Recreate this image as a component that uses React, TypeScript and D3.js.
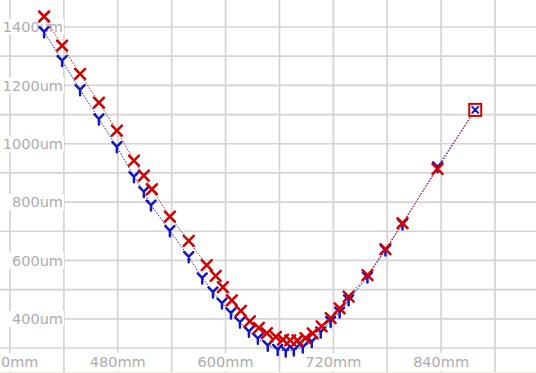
import React from 'react';
import * as d3 from 'd3';

// chart values
const redMm = [398, 418, 438, 459, 479, 498, 509, 518, 538, 559, 579, 589, 597, 607, 617, 627, 637, 646, 656, 664, 672, 680, 689, 697, 707, 717, 727, 737, 758, 778, 797, 836, 878];
const redUm = [1436, 1336, 1239, 1141, 1045, 942, 891, 844, 750, 667, 584, 547, 509, 463, 427, 391, 369, 351, 338, 329, 326, 326, 334, 350, 374, 402, 436, 476, 550, 639, 728, 914, 1116];
const blueMm = [398, 418, 438, 459, 479, 498, 509, 517, 538, 559, 574, 586, 596, 606, 616, 626, 636, 647, 658, 667, 676, 686, 696, 706, 717, 727, 737, 758, 778, 797, 836, 878];
const blueUm = [1384, 1285, 1185, 1085, 990, 887, 836, 790, 702, 613, 540, 492, 454, 420, 389, 357, 333, 309, 295, 290, 293, 303, 322, 355, 391, 423, 465, 543, 636, 725, 921, 1116];

const xGrid = [360, 420, 480, 540, 600, 660, 720, 780, 840, 900];
const xLabels = [360, 480, 600, 720, 840];
const yGrid = [300, 400, 500, 600, 700, 800, 900, 1000, 1100, 1200, 1300, 1400];
const yLabels = [400, 600, 800, 1000, 1200, 1400];

const W = 536;
const H = 373;
const font = '"DejaVu Sans", Verdana, sans-serif';

const App = () => {
  const x = d3.scaleLinear().domain([360, 900]).range([10, 495]);
  const y = d3.scaleLinear().domain([300, 1400]).range([348, 27]);

  const red = redMm.map((m, i) => [x(m), y(redUm[i])] as [number, number]);
  const blue = blueMm.map((m, i) => [x(m), y(blueUm[i])] as [number, number]);
  const line = d3.line();
  const last = red[red.length - 1];

  return (
    <svg width={W} height={H} style={{ position: 'absolute', left: 0, top: 0, background: '#fff' }}>
      <g stroke="#d4d4d4" strokeWidth={1.7}>
        {xGrid.map((v) => (
          <line key={'x' + v} x1={x(v)} x2={x(v)} y1={0} y2={H} />
        ))}
        {yGrid.map((v) => (
          <line key={'y' + v} x1={0} x2={W} y1={y(v)} y2={y(v)} />
        ))}
      </g>
      <g fontFamily={font} fontSize={14.5} fill="#adadad">
        {yLabels.map((v) => (
          <g key={'yl' + v}>
            <rect x={0} y={y(v) - 8} width={64} height={16} fill="#fff" />
            <text x={63} y={y(v)} dy="0.36em" textAnchor="end">{v}um</text>
          </g>
        ))}
        {xLabels.map((v, i) => (
          <g key={'xl' + v}>
            <rect x={Math.max(0, x(v) - 30)} y={353} width={60} height={18} fill="#fff" />
            {/* the first label runs off the left edge; only its tail shows */}
            {i === 0 ? (
              <text x={1} y={362} dy="0.36em" textAnchor="start">{String(v).slice(2)}mm</text>
            ) : (
              <text x={x(v)} y={362} dy="0.36em" textAnchor="middle">{v}mm</text>
            )}
          </g>
        ))}
      </g>
      <line x1={0} x2={W} y1={H - 0.5} y2={H - 0.5} stroke="#f4efd8" />

      <path d={line(blue) || ''} fill="none" stroke="#2020b8" strokeWidth={1} strokeDasharray="1.5,1.5" />
      <g stroke="#1414c8" strokeWidth={2.5} strokeLinecap="round">
        {blue.map(([px, py], i) => (
          <path key={'b' + i} d={`M${px - 4.5},${py - 4.5}L${px},${py}L${px + 4.5},${py - 4.5}M${px},${py}L${px},${py + 5.5}`} fill="none" />
        ))}
      </g>

      <path d={line(red) || ''} fill="none" stroke="#b82020" strokeWidth={1} strokeDasharray="1.5,1.5" />
      <rect x={last[0] - 6} y={last[1] - 6} width={12} height={12} fill="#fff" stroke="#d00000" strokeWidth={2} />
      <g stroke="#d40000" strokeWidth={2.5} strokeLinecap="round">
        {red.map(([px, py], i) =>
          i === red.length - 1 ? (
            <path key={'r' + i} d={`M${px - 3},${py - 3}L${px + 3},${py + 3}M${px - 3},${py + 3}L${px + 3},${py - 3}`} stroke="#1414c8" strokeWidth={2} />
          ) : (
            <path key={'r' + i} d={`M${px - 5},${py - 5}L${px + 5},${py + 5}M${px - 5},${py + 5}L${px + 5},${py - 5}`} />
          )
        )}
      </g>
    </svg>
  );
};

export default App;
